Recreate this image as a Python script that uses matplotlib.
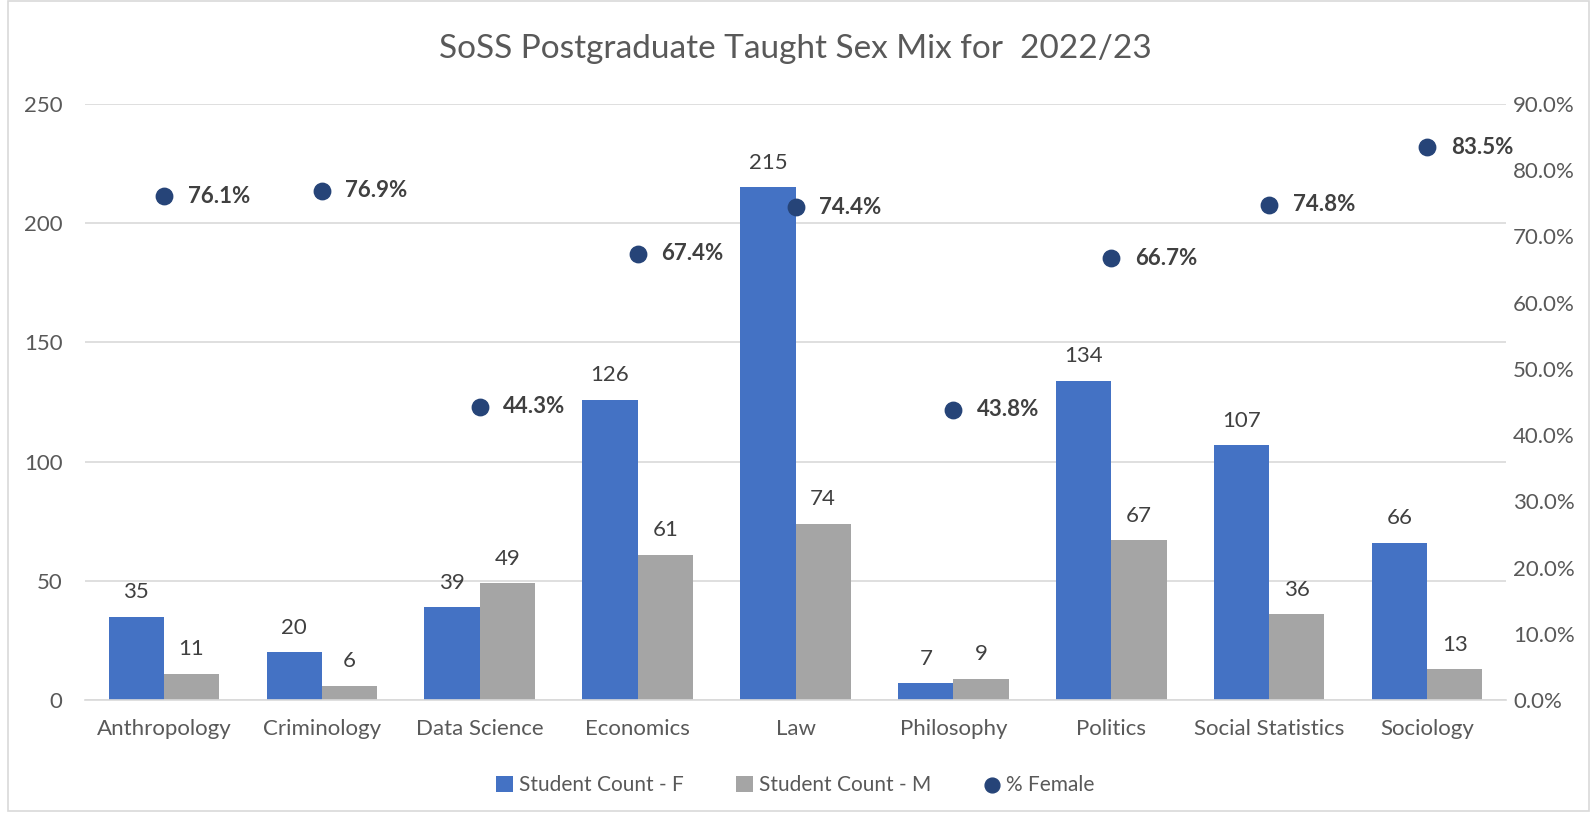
import matplotlib
matplotlib.use("Agg")
import matplotlib.pyplot as plt
import numpy as np
from matplotlib.patches import Rectangle
from matplotlib.ticker import FuncFormatter

categories = ["Anthropology", "Criminology", "Data Science", "Economics", "Law",
              "Philosophy", "Politics", "Social Statistics", "Sociology"]
count_f = [35, 20, 39, 126, 215, 7, 134, 107, 66]
count_m = [11, 6, 49, 61, 74, 9, 67, 36, 13]
pct_female = [76.1, 76.9, 44.3, 67.4, 74.4, 43.8, 66.7, 74.8, 83.5]

plt.rcParams['font.family'] = ['Lato', 'DejaVu Sans']

fig = plt.figure(figsize=(15.91, 8.21), dpi=100)
ax = fig.add_axes([0.0534, 0.1474, 0.8932, 0.7259])
ax2 = ax.twinx()

x = np.arange(len(categories))
w = 0.35
c_f = "#4472C4"
c_m = "#A5A5A5"
c_p = "#264478"
txt = "#404040"
tick_c = "#595959"

bf = ax.bar(x - w / 2, count_f, w, color=c_f, label="Student Count - F", zorder=2)
bm = ax.bar(x + w / 2, count_m, w, color=c_m, label="Student Count - M", zorder=2)
for xi, v in zip(x - w / 2, count_f):
    ax.text(xi, v + 6, str(v), ha="center", va="bottom", fontsize=16, color=txt)
for xi, v in zip(x + w / 2, count_m):
    ax.text(xi, v + 6, str(v), ha="center", va="bottom", fontsize=16, color=txt)

ax.set_xlim(-0.5, len(categories) - 0.5)
ax.set_ylim(0, 250)
ax.set_yticks(np.arange(0, 251, 50))
ax.yaxis.grid(True, color="#D9D9D9", linewidth=1.2, zorder=0)
ax.set_axisbelow(True)
ax.set_xticks(x)
ax.set_xticklabels(categories, fontsize=16, color=tick_c)
ax.tick_params(axis="both", length=0, labelsize=16, labelcolor=tick_c)
ax.tick_params(axis="x", pad=14)
ax.tick_params(axis="y", pad=16)
for s in ["top", "right", "left"]:
    ax.spines[s].set_visible(False)
ax.spines["bottom"].set_color("#D9D9D9")
ax.spines["bottom"].set_linewidth(1.2)

sc = ax2.scatter(x, pct_female, s=140, color=c_p, label="% Female", zorder=5)
for xi, p in zip(x, pct_female):
    ax2.text(xi + 0.15, p, f"{p:.1f}%", ha="left", va="center", fontsize=16,
             fontweight="bold", color=txt)
ax2.set_ylim(0, 90)
ax2.set_yticks(np.arange(0, 91, 10))
ax2.yaxis.set_major_formatter(FuncFormatter(lambda v, _: f"{v:.1f}%"))
ax2.tick_params(axis="y", length=0, labelsize=16, labelcolor=tick_c, pad=5)
for s in ["top", "right", "left", "bottom"]:
    ax2.spines[s].set_visible(False)

fig.text(0.5, 0.94, "SoSS Postgraduate Taught Sex Mix for  2022/23", ha="center",
         va="center", fontsize=24, color="#595959")

leg = fig.legend(handles=[bf, bm, sc], labels=["Student Count - F", "Student Count - M", "% Female"],
                 loc="center", bbox_to_anchor=(0.5, 0.044), ncol=3, frameon=False,
                 fontsize=15, labelcolor=tick_c, handlelength=0.8, handleheight=0.8,
                 handletextpad=0.3, columnspacing=2.5, markerscale=0.9)

fig.patches.append(Rectangle((0.005, 0.012), 0.994, 0.987, transform=fig.transFigure,
                             fill=False, edgecolor="#D9D9D9", linewidth=1.2))

fig.savefig("out.png", dpi=100)
